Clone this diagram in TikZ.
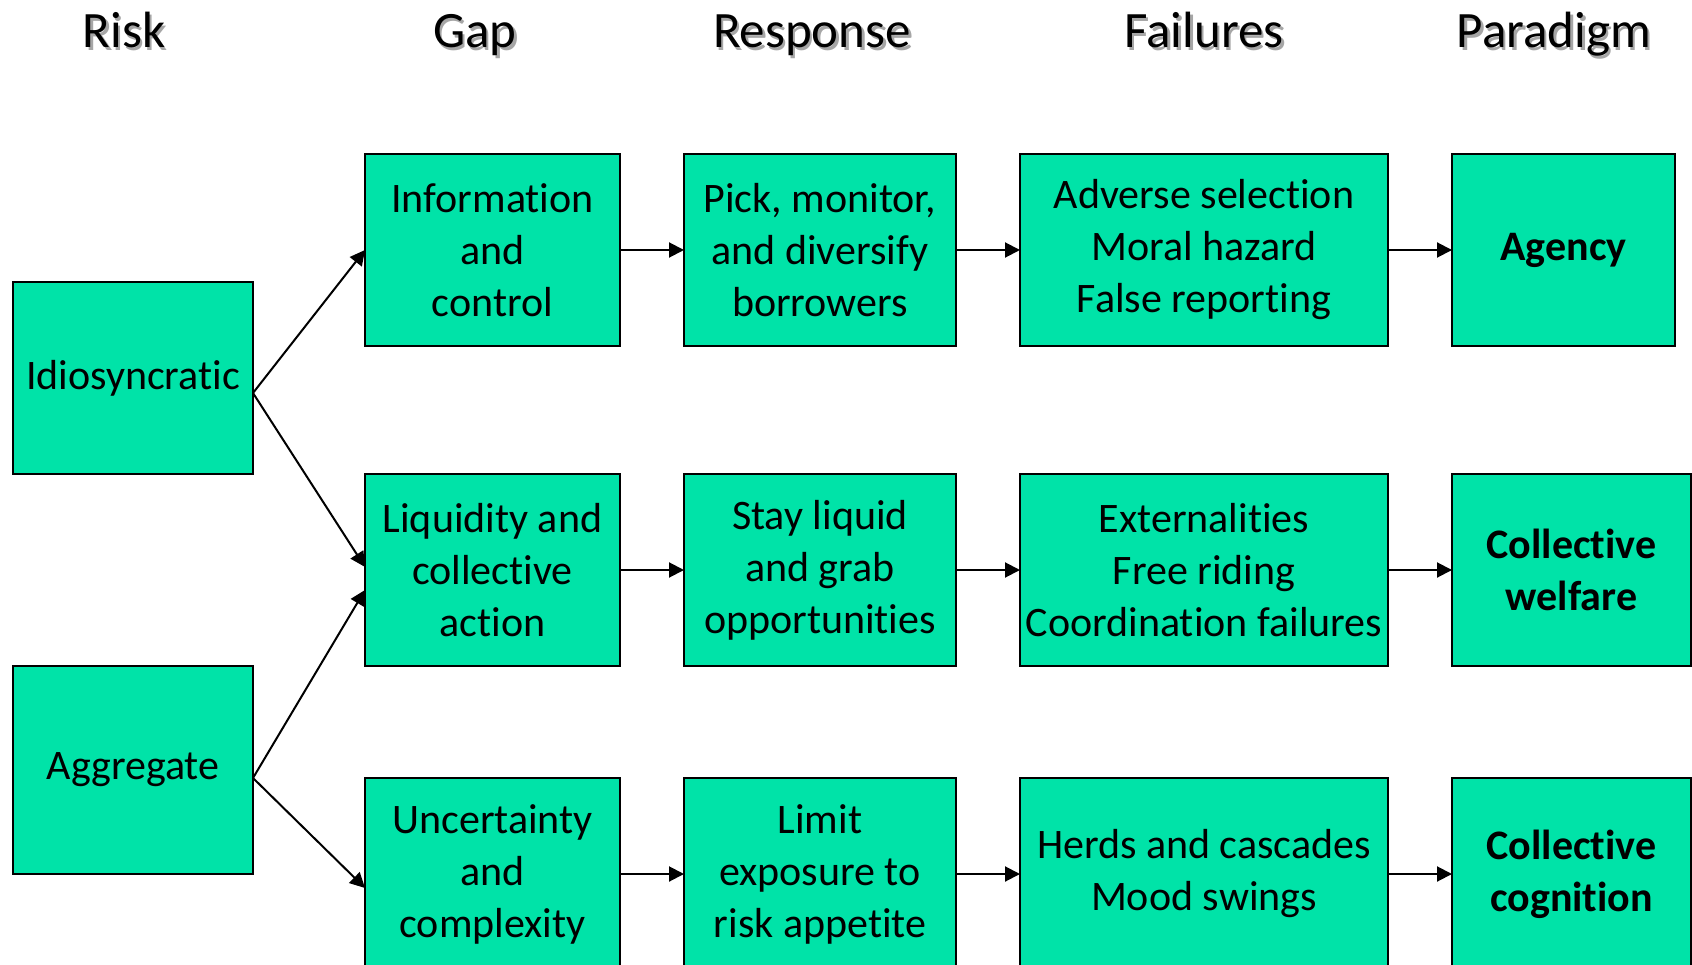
\documentclass[tikz,border=0pt]{standalone}
\usepackage{fontspec}
\setmainfont{Carlito}[RawFeature={-liga}]
\usetikzlibrary{positioning, arrows.meta}
\definecolor{boxgreen}{RGB}{0,227,168}
\tikzset{
	box/.style={draw=black, line width=2.5pt, fill=boxgreen, align=center, inner sep=2pt, outer sep=0pt, minimum height=192pt, font=\fontsize{42}{52}\selectfont},
	arr/.style={-{Triangle[length=15pt, width=15pt]}, line width=2pt},
	head/.style={anchor=base, font=\fontsize{51}{60}\selectfont}
}

\begin{document}
\begin{tikzpicture}
		[x=1pt, y=-1pt, node distance=64pt]
		\useasboundingbox (0,0) rectangle (1692,965);
		\clip (0,0) rectangle (1692,965);
	
		% headers %
		\foreach \x/\t in {124/Risk, 475/Gap, 812/Response, 1204/Failures, 1554/Paradigm}{
			\node[head, text=black!35] (s\t) at (\x+2.5, 50.5) {\t};
			\node[head] (h\t) at (\x, 48) {\t};
		}
	
		% nodes %
		\node[box, minimum width=240pt] (idio) at (133,378) {Idiosyncratic};
		\node[box, minimum width=240pt, minimum height=208pt] (aggr) at (133,770) {Aggregate};
	
		\node[box, minimum width=255pt] (gapA) at (492.5,250) {Information\\and\\control};
		\node[box, minimum width=272pt, right=of gapA] (respA) {Pick, monitor,\\and diversify\\borrowers};
		\node[box, minimum width=368pt, right=of respA] (failA) {Adverse selection\\Moral hazard\\False reporting};
		\node[box, minimum width=223pt, right=of failA] (parA) {\textbf{Agency}};
	
		\node[box, minimum width=255pt] (gapB) at (492.5,570) {Liquidity and\\collective\\action};
		\node[box, minimum width=272pt, right=of gapB] (respB) {Stay liquid\\and grab\\opportunities};
		\node[box, minimum width=368pt, right=of respB] (failB) {Externalities\\Free riding\\Coordination failures};
		\node[box, minimum width=239pt, right=of failB] (parB) {\textbf{Collective}\\\textbf{welfare}};
	
		\node[box, minimum width=255pt] (gapC) at (492.5,874) {Uncertainty\\and\\complexity};
		\node[box, minimum width=272pt, right=of gapC] (respC) {Limit\\exposure to\\risk appetite};
		\node[box, minimum width=368pt, right=of respC] (failC) {Herds and cascades\\Mood swings};
		\node[box, minimum width=239pt, right=of failC] (parC) {\textbf{Collective}\\\textbf{cognition}};
	 
		% edges %
		\draw[arr] ([yshift=-15pt]idio.east) -- (gapA.west);
		\draw[arr] ([yshift=-15pt]idio.east) -- ([yshift=3pt]gapB.west);
		\draw[arr] ([yshift=-8pt]aggr.east) -- ([yshift=-20pt]gapB.west);
		\draw[arr] ([yshift=-8pt]aggr.east) -- ([yshift=-14pt]gapC.west);
		\foreach \r in {A,B,C}{
			\draw[arr] (gap\r.east) -- (resp\r.west);
			\draw[arr] (resp\r.east) -- (fail\r.west);
			\draw[arr] (fail\r.east) -- (par\r.west);
		}
		
		\end{tikzpicture}
\end{document}
